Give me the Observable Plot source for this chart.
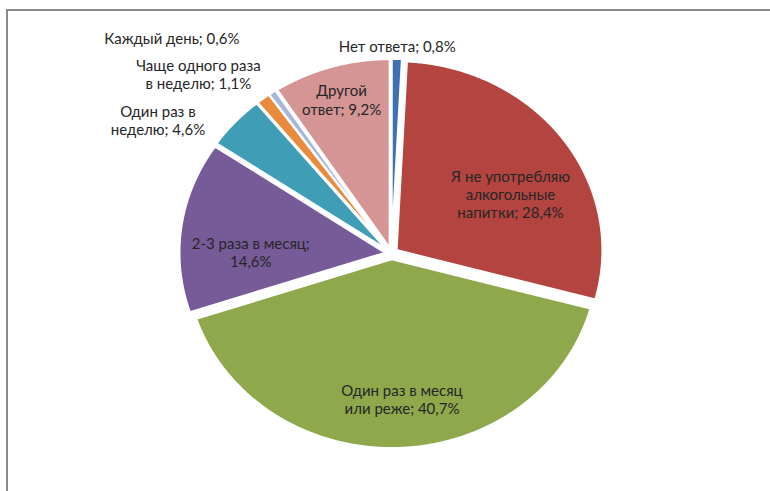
<!DOCTYPE html>
<html>
<head>
<meta charset="utf-8">
<script src="https://cdn.jsdelivr.net/npm/d3@7"></script>
<script src="https://cdn.jsdelivr.net/npm/@observablehq/plot@0.6"></script>
<style>
  html, body { margin: 0; padding: 0; background: #fff; }
  #wrap { position: relative; width: 770px; height: 491px; overflow: hidden; }
  #frame { position: absolute; left: 6px; top: 9px; width: 800px; height: 600px;
           border-top: 2px solid #8a8a8a; border-left: 2px solid #8a8a8a; }
  #chart { position: absolute; left: 0; top: 0; }
</style>
</head>
<body>
<div id="wrap"><div id="frame"></div><div id="chart"></div></div>
<script>
// Data (clockwise from 12 o'clock)
const categories = [
  "Нет ответа",
  "Я не употребляю алкогольные напитки",
  "Один раз в месяц или реже",
  "2-3 раза в месяц",
  "Один раз в неделю",
  "Чаще одного раза в неделю",
  "Каждый день",
  "Другой ответ"
];
const values = [0.8, 28.4, 40.7, 14.6, 4.6, 1.1, 0.6, 9.2];
const labelTexts = [
  "Нет ответа; 0,8%",
  "Я не употребляю\nалкогольные\nнапитки; 28,4%",
  "Один раз в месяц\nили реже; 40,7%",
  "2-3 раза в месяц;\n14,6%",
  "Один раз в\nнеделю; 4,6%",
  "Чаще одного раза\nв неделю; 1,1%",
  "Каждый день; 0,6%",
  "Другой\nответ; 9,2%"
];
const colors = ["#3f71b2", "#b4443f", "#8ea84b", "#775a98", "#3f9db6", "#e98b3c", "#a7b7da", "#d59594"];

// Layout (style) settings
const cx = 391, cy = 253, rx = 206, ry = 189;
const explode = 0.03;
// label radius factor and pixel nudges
const labelR = [1.10, 0.66, 0.77, 0.68, 1.34, 1.34, 1.56, 0.85];
const labelNudge = [[0,0],[9,14],[6,0],[-2,16],[-30,38],[-26,22],[-39,28],[0,0]];

const total = d3.sum(values);
const slices = [];
const labels = [];
let acc = 0;
categories.forEach((name, i) => {
  const a0 = acc / total * 2 * Math.PI;
  acc += values[i];
  const a1 = acc / total * 2 * Math.PI;
  const m = (a0 + a1) / 2;
  const ox = explode * Math.sin(m), oy = explode * Math.cos(m);
  slices.push({name, x: ox, y: oy});
  const n = Math.max(2, Math.ceil((a1 - a0) / (Math.PI / 360)));
  for (let k = 0; k <= n; k++) {
    const a = a0 + (a1 - a0) * k / n;
    slices.push({name, x: ox + Math.sin(a), y: oy + Math.cos(a)});
  }
  labels.push({
    text: labelTexts[i],
    x: labelR[i] * Math.sin(m) + labelNudge[i][0] / rx,
    y: labelR[i] * Math.cos(m) - labelNudge[i][1] / ry
  });
});

const chart = Plot.plot({
  width: 770,
  height: 491,
  x: {domain: [-1, 1], range: [cx - rx, cx + rx], axis: null},
  y: {domain: [-1, 1], range: [cy + ry, cy - ry], axis: null},
  color: {domain: categories, range: colors},
  style: {fontFamily: "Lato, 'Noto Sans', sans-serif", background: "transparent"},
  marks: [
    Plot.line(slices, {x: "x", y: "y", z: "name", fill: "name", stroke: "white", strokeWidth: 2.2, curve: "linear-closed"}),
    Plot.text(labels, {x: "x", y: "y", text: "text", fontSize: 15, lineHeight: 1.22, fill: "#262626", textAnchor: "middle"})
  ]
});
document.getElementById("chart").appendChild(chart);
</script>
</body>
</html>
